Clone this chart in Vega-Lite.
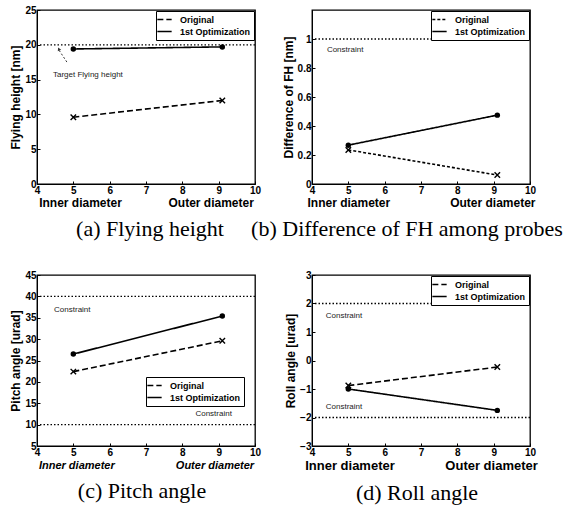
{
  "$schema": "https://vega.github.io/schema/vega-lite/v6.json",
  "background": "white",
  "padding": {"left": 9, "top": 4, "right": 5, "bottom": 2},
  "datasets": {
    "fh": [
      {"x": 5, "y": 9.6, "series": "Original"},
      {"x": 9.1, "y": 12.0, "series": "Original"},
      {"x": 5, "y": 19.4, "series": "1st Optimization"},
      {"x": 9.1, "y": 19.7, "series": "1st Optimization"}
    ],
    "diff": [
      {"x": 5, "y": 0.235, "series": "Original"},
      {"x": 9.1, "y": 0.062, "series": "Original"},
      {"x": 5, "y": 0.268, "series": "1st Optimization"},
      {"x": 9.1, "y": 0.475, "series": "1st Optimization"}
    ],
    "pitch": [
      {"x": 5, "y": 22.4, "series": "Original"},
      {"x": 9.1, "y": 29.6, "series": "Original"},
      {"x": 5, "y": 26.5, "series": "1st Optimization"},
      {"x": 9.1, "y": 35.4, "series": "1st Optimization"}
    ],
    "roll": [
      {"x": 5, "y": -0.88, "series": "Original"},
      {"x": 9.1, "y": -0.23, "series": "Original"},
      {"x": 5, "y": -1.0, "series": "1st Optimization"},
      {"x": 9.1, "y": -1.75, "series": "1st Optimization"}
    ]
  },
  "bounds": "flush",
  "columns": 2,
  "spacing": {"row": 91, "column": 57},
  "concat": [
    {
      "width": 218,
      "height": 174,
      "title": {"text": "(a) Flying height", "orient": "bottom", "anchor": "middle", "dx": 4, "offset": 11},
      "layer": [
        {
          "data": {"values": [{"y": 20}]},
          "mark": {"type": "rule", "color": "black", "strokeDash": [1.5, 2], "strokeWidth": 1.3},
          "encoding": {"y": {"field": "y", "type": "quantitative", "scale": {"domain": [0, 25], "nice": false}, "axis": {"values": [0, 5, 10, 15, 20, 25], "tickCount": 20, "format": "d", "title": "Flying height [nm]"}}}
        },
        {
          "data": {"name": "fh"},
          "mark": {"type": "line", "color": "black", "strokeWidth": 1.6},
          "encoding": {
            "x": {"field": "x", "type": "quantitative", "scale": {"domain": [4, 10], "nice": false, "zero": false},
              "axis": {"values": [4, 5, 6, 7, 8, 9, 10], "tickCount": 20, "format": "d", "title": "Inner diameter\u00a0\u00a0\u00a0\u00a0\u00a0\u00a0\u00a0\u00a0\u00a0\u00a0\u00a0\u00a0\u00a0\u00a0Outer diameter"}},
            "y": {"field": "y", "type": "quantitative",
              "axis": {"values": [0, 5, 10, 15, 20, 25], "tickCount": 20, "format": "d", "title": "Flying height [nm]"}},
            "strokeDash": {"field": "series", "type": "nominal",
              "scale": {"domain": ["Original", "1st Optimization"], "range": [[6, 3], [1, 0]]},
              "legend": {"orient": "top-right", "offset": 1, "title": null}}
          }
        },
        {
          "data": {"name": "fh"},
          "transform": [{"filter": "datum.series == 'Original'"}],
          "mark": {"type": "point", "shape": "M-1,-1L1,1M-1,1L1,-1", "filled": false, "stroke": "black", "strokeWidth": 1.4, "size": 30, "opacity": 1},
          "encoding": {"x": {"field": "x", "type": "quantitative"}, "y": {"field": "y", "type": "quantitative"}}
        },
        {
          "data": {"name": "fh"},
          "transform": [{"filter": "datum.series == '1st Optimization'"}],
          "mark": {"type": "point", "shape": "circle", "filled": true, "color": "black", "size": 30, "opacity": 1},
          "encoding": {"x": {"field": "x", "type": "quantitative"}, "y": {"field": "y", "type": "quantitative"}}
        },
        {
          "data": {"values": [{"x": 4.61, "y": 19.2, "x2": 4.85, "y2": 17.3}]},
          "mark": {"type": "rule", "color": "#333", "strokeDash": [2, 2], "strokeWidth": 1},
          "encoding": {
            "x": {"field": "x", "type": "quantitative"},
            "y": {"field": "y", "type": "quantitative"},
            "x2": {"field": "x2"},
            "y2": {"field": "y2"}
          }
        },
        {
          "data": {"values": [{"x": 4.6, "y": 19.4}]},
          "mark": {"type": "point", "shape": "triangle-up", "filled": true, "color": "#333", "size": 14, "angle": -25, "opacity": 1},
          "encoding": {"x": {"field": "x", "type": "quantitative"}, "y": {"field": "y", "type": "quantitative"}}
        },
        {
          "data": {"values": [{"x": 4.44, "y": 15.6, "label": "Target Flying height"}]},
          "mark": {"type": "text", "align": "left", "baseline": "middle", "font": "Liberation Sans", "fontSize": 8, "color": "#222"},
          "encoding": {"x": {"field": "x", "type": "quantitative"}, "y": {"field": "y", "type": "quantitative"}, "text": {"field": "label"}}
        }
      ]
    },
    {
      "width": 218,
      "height": 174,
      "title": {"text": "(b) Difference of FH among probes", "orient": "bottom", "anchor": "middle", "dx": -14, "offset": 11},
      "layer": [
        {
          "data": {"values": [{"y": 1}]},
          "mark": {"type": "rule", "color": "black", "strokeDash": [1.5, 2], "strokeWidth": 1.3},
          "encoding": {"y": {"field": "y", "type": "quantitative", "scale": {"domain": [0, 1.2], "nice": false}, "axis": {"values": [0, 0.2, 0.4, 0.6, 0.8, 1], "tickCount": 20, "format": "~g", "title": "Difference of FH [nm]"}}}
        },
        {
          "data": {"name": "diff"},
          "mark": {"type": "line", "color": "black", "strokeWidth": 1.6},
          "encoding": {
            "x": {"field": "x", "type": "quantitative", "scale": {"domain": [4, 10], "nice": false, "zero": false},
              "axis": {"values": [4, 5, 6, 7, 8, 9, 10], "tickCount": 20, "format": "d", "title": "Inner diameter\u00a0\u00a0\u00a0\u00a0\u00a0\u00a0\u00a0\u00a0\u00a0\u00a0\u00a0\u00a0\u00a0\u00a0\u00a0\u00a0\u00a0\u00a0Outer diameter"}},
            "y": {"field": "y", "type": "quantitative",
              "axis": {"values": [0, 0.2, 0.4, 0.6, 0.8, 1], "tickCount": 20, "format": "~g", "title": "Difference of FH [nm]"}},
            "strokeDash": {"field": "series", "type": "nominal",
              "scale": {"domain": ["Original", "1st Optimization"], "range": [[3, 2], [1, 0]]},
              "legend": {"orient": "top-right", "offset": 1, "title": null}}
          }
        },
        {
          "data": {"name": "diff"},
          "transform": [{"filter": "datum.series == 'Original'"}],
          "mark": {"type": "point", "shape": "M-1,-1L1,1M-1,1L1,-1", "filled": false, "stroke": "black", "strokeWidth": 1.4, "size": 30, "opacity": 1},
          "encoding": {"x": {"field": "x", "type": "quantitative"}, "y": {"field": "y", "type": "quantitative"}}
        },
        {
          "data": {"name": "diff"},
          "transform": [{"filter": "datum.series == '1st Optimization'"}],
          "mark": {"type": "point", "shape": "circle", "filled": true, "color": "black", "size": 30, "opacity": 1},
          "encoding": {"x": {"field": "x", "type": "quantitative"}, "y": {"field": "y", "type": "quantitative"}}
        },
        {
          "data": {"values": [{"x": 4.41, "y": 0.926, "label": "Constraint"}]},
          "mark": {"type": "text", "align": "left", "baseline": "middle", "font": "Liberation Sans", "fontSize": 8, "color": "#222"},
          "encoding": {"x": {"field": "x", "type": "quantitative"}, "y": {"field": "y", "type": "quantitative"}, "text": {"field": "label"}}
        }
      ]
    },
    {
      "width": 218,
      "height": 171,
      "title": {"text": "(c) Pitch angle", "orient": "bottom", "anchor": "middle", "dx": -4, "offset": 11},
      "layer": [
        {
          "data": {"values": [{"y": 40}, {"y": 10}]},
          "mark": {"type": "rule", "color": "black", "strokeDash": [1.5, 2], "strokeWidth": 1.3},
          "encoding": {"y": {"field": "y", "type": "quantitative", "scale": {"domain": [5, 45], "nice": false, "zero": false}, "axis": {"values": [5, 10, 15, 20, 25, 30, 35, 40, 45], "tickCount": 20, "format": "d", "title": "Pitch angle [urad]"}}}
        },
        {
          "data": {"name": "pitch"},
          "mark": {"type": "line", "color": "black", "strokeWidth": 1.6},
          "encoding": {
            "x": {"field": "x", "type": "quantitative", "scale": {"domain": [4, 10], "nice": false, "zero": false},
              "axis": {"values": [4, 5, 6, 7, 8, 9, 10], "tickCount": 20, "format": "d", "titleFontStyle": "italic", "titleFontSize": 11, "title": "Inner diameter\u00a0\u00a0\u00a0\u00a0\u00a0\u00a0\u00a0\u00a0\u00a0\u00a0\u00a0\u00a0\u00a0\u00a0\u00a0\u00a0\u00a0\u00a0\u00a0\u00a0Outer diameter"}},
            "y": {"field": "y", "type": "quantitative",
              "axis": {"values": [5, 10, 15, 20, 25, 30, 35, 40, 45], "tickCount": 20, "format": "d", "title": "Pitch angle [urad]"}},
            "strokeDash": {"field": "series", "type": "nominal",
              "scale": {"domain": ["Original", "1st Optimization"], "range": [[6, 3], [1, 0]]},
              "legend": {"orient": "none", "legendX": 109, "legendY": 102, "title": null}}
          }
        },
        {
          "data": {"name": "pitch"},
          "transform": [{"filter": "datum.series == 'Original'"}],
          "mark": {"type": "point", "shape": "M-1,-1L1,1M-1,1L1,-1", "filled": false, "stroke": "black", "strokeWidth": 1.4, "size": 30, "opacity": 1},
          "encoding": {"x": {"field": "x", "type": "quantitative"}, "y": {"field": "y", "type": "quantitative"}}
        },
        {
          "data": {"name": "pitch"},
          "transform": [{"filter": "datum.series == '1st Optimization'"}],
          "mark": {"type": "point", "shape": "circle", "filled": true, "color": "black", "size": 30, "opacity": 1},
          "encoding": {"x": {"field": "x", "type": "quantitative"}, "y": {"field": "y", "type": "quantitative"}}
        },
        {
          "data": {"values": [{"x": 4.47, "y": 36.8, "label": "Constraint"}, {"x": 8.36, "y": 12.5, "label": "Constraint"}]},
          "mark": {"type": "text", "align": "left", "baseline": "middle", "font": "Liberation Sans", "fontSize": 8, "color": "#222"},
          "encoding": {"x": {"field": "x", "type": "quantitative"}, "y": {"field": "y", "type": "quantitative"}, "text": {"field": "label"}}
        }
      ]
    },
    {
      "width": 218,
      "height": 171,
      "title": {"text": "(d) Roll angle", "orient": "bottom", "anchor": "middle", "dx": -4, "offset": 11},
      "layer": [
        {
          "data": {"values": [{"y": 2}, {"y": -2}]},
          "mark": {"type": "rule", "color": "black", "strokeDash": [1.5, 2], "strokeWidth": 1.3},
          "encoding": {"y": {"field": "y", "type": "quantitative", "scale": {"domain": [-3, 3], "nice": false, "zero": false}, "axis": {"values": [-3, -2, -1, 0, 1, 2, 3], "tickCount": 20, "format": "d", "title": "Roll angle [urad]"}}}
        },
        {
          "data": {"name": "roll"},
          "mark": {"type": "line", "color": "black", "strokeWidth": 1.6},
          "encoding": {
            "x": {"field": "x", "type": "quantitative", "scale": {"domain": [4, 10], "nice": false, "zero": false},
              "axis": {"values": [4, 5, 6, 7, 8, 9, 10], "tickCount": 20, "format": "d", "titleFontSize": 13, "title": "Inner diameter\u00a0\u00a0\u00a0\u00a0\u00a0\u00a0\u00a0\u00a0\u00a0\u00a0\u00a0\u00a0\u00a0\u00a0Outer diameter"}},
            "y": {"field": "y", "type": "quantitative",
              "axis": {"values": [-3, -2, -1, 0, 1, 2, 3], "tickCount": 20, "format": "d", "title": "Roll angle [urad]"}},
            "strokeDash": {"field": "series", "type": "nominal",
              "scale": {"domain": ["Original", "1st Optimization"], "range": [[6, 3], [1, 0]]},
              "legend": {"orient": "top-right", "offset": 1, "title": null}}
          }
        },
        {
          "data": {"name": "roll"},
          "transform": [{"filter": "datum.series == 'Original'"}],
          "mark": {"type": "point", "shape": "M-1,-1L1,1M-1,1L1,-1", "filled": false, "stroke": "black", "strokeWidth": 1.4, "size": 30, "opacity": 1},
          "encoding": {"x": {"field": "x", "type": "quantitative"}, "y": {"field": "y", "type": "quantitative"}}
        },
        {
          "data": {"name": "roll"},
          "transform": [{"filter": "datum.series == '1st Optimization'"}],
          "mark": {"type": "point", "shape": "circle", "filled": true, "color": "black", "size": 30, "opacity": 1},
          "encoding": {"x": {"field": "x", "type": "quantitative"}, "y": {"field": "y", "type": "quantitative"}}
        },
        {
          "data": {"values": [{"x": 4.38, "y": 1.57, "label": "Constraint"}, {"x": 4.38, "y": -1.64, "label": "Constraint"}]},
          "mark": {"type": "text", "align": "left", "baseline": "middle", "font": "Liberation Sans", "fontSize": 8, "color": "#222"},
          "encoding": {"x": {"field": "x", "type": "quantitative"}, "y": {"field": "y", "type": "quantitative"}, "text": {"field": "label"}}
        }
      ]
    }
  ],
  "resolve": {"scale": {"strokeDash": "independent"}, "legend": {"strokeDash": "independent"}},
  "config": {
    "view": {"stroke": "black", "strokeWidth": 1.3},
    "axis": {
      "grid": false,
      "labelFont": "Liberation Sans",
      "labelFontSize": 10,
      "labelFontWeight": "bold",
      "labelColor": "black",
      "labelFlush": false,
      "labelOverlap": false,
      "labelBound": false,
      "labelPadding": 4,
      "titleFont": "Liberation Sans",
      "titleFontSize": 12,
      "titleFontWeight": "bold",
      "titleColor": "black",
      "titlePadding": 2,
      "domainColor": "black",
      "tickColor": "black",
      "tickSize": -3
    },
    "legend": {
      "labelFont": "Liberation Sans",
      "labelFontSize": 9,
      "labelFontWeight": "bold",
      "labelColor": "black",
      "symbolType": "M-1.6,0L1.6,0",
      "symbolStrokeColor": "black",
      "symbolStrokeWidth": 1.5,
      "symbolSize": 80,
      "strokeColor": "black",
      "fillColor": "white",
      "padding": 3,
      "rowPadding": 1,
      "labelOffset": 10
    },
    "title": {"font": "Liberation Serif", "fontSize": 22, "fontWeight": "normal", "color": "black"}
  }
}
